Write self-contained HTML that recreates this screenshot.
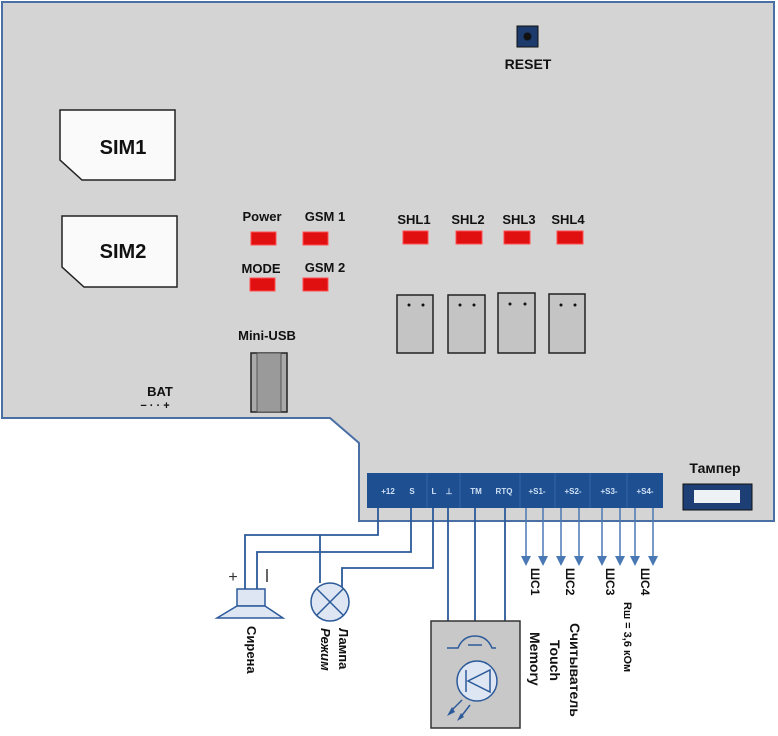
<!DOCTYPE html>
<html><head><meta charset="utf-8"><style>
html,body{margin:0;padding:0;background:#fff;width:778px;height:736px;overflow:hidden}
svg{display:block}
text{font-family:"Liberation Sans",sans-serif;font-weight:bold;fill:#111}
</style></head><body>
<svg width="778" height="736" viewBox="0 0 778 736" xmlns="http://www.w3.org/2000/svg">
<polygon points="2,2 774,2 774,521 359,521 359,443 330,418 2,418" fill="#d4d4d4" stroke="#4a6fa5" stroke-width="2"/>
<!-- reset -->
<rect x="517" y="26" width="21" height="21" fill="#1c3a6b" stroke="#111"/>
<circle cx="527.5" cy="36.5" r="4" fill="#111"/>
<text x="528" y="69" font-size="14" text-anchor="middle">RESET</text>
<!-- SIMs -->
<polygon points="60,110 175,110 175,180 82,180 60,160" fill="#fafafa" stroke="#222" stroke-width="1.5"/>
<text x="123" y="154" font-size="20" text-anchor="middle">SIM1</text>
<polygon points="62,216 177,216 177,287 84,287 62,267" fill="#fafafa" stroke="#222" stroke-width="1.5"/>
<text x="123" y="258" font-size="20" text-anchor="middle">SIM2</text>
<!-- LEDs -->
<g fill="#e01010" stroke="#ff5050" stroke-width="1">
<rect x="251" y="232" width="25" height="13"/><rect x="303" y="232" width="25" height="13"/>
<rect x="250" y="278" width="25" height="13"/><rect x="303" y="278" width="25" height="13"/>
<rect x="403" y="231" width="25" height="13"/><rect x="456" y="231" width="26" height="13"/>
<rect x="504" y="231" width="26" height="13"/><rect x="557" y="231" width="26" height="13"/>
</g>
<g font-size="13">
<text x="262" y="221" text-anchor="middle">Power</text>
<text x="325" y="221" text-anchor="middle">GSM 1</text>
<text x="261" y="273" text-anchor="middle">MODE</text>
<text x="325" y="272" text-anchor="middle">GSM 2</text>
<text x="414" y="224" text-anchor="middle">SHL1</text>
<text x="468" y="224" text-anchor="middle">SHL2</text>
<text x="519" y="224" text-anchor="middle">SHL3</text>
<text x="568" y="224" text-anchor="middle">SHL4</text>
<text x="267" y="340" text-anchor="middle">Mini-USB</text>
<text x="160" y="396" text-anchor="middle">BAT</text>
</g>
<text x="155" y="409" font-size="11" text-anchor="middle">− ·  · +</text>
<!-- relays -->
<g fill="#c4c4c4" stroke="#222" stroke-width="1.5">
<rect x="397" y="295" width="36" height="58"/><rect x="448" y="295" width="37" height="58"/>
<rect x="498" y="293" width="37" height="60"/><rect x="549" y="294" width="36" height="59"/>
</g>
<g fill="#111">
<circle cx="409" cy="305" r="1.5"/><circle cx="423" cy="305" r="1.5"/>
<circle cx="460" cy="305" r="1.5"/><circle cx="474" cy="305" r="1.5"/>
<circle cx="510" cy="304" r="1.5"/><circle cx="525" cy="304" r="1.5"/>
<circle cx="561" cy="305" r="1.5"/><circle cx="575" cy="305" r="1.5"/>
</g>
<!-- mini usb -->
<rect x="251" y="353" width="36" height="59" fill="#aaa" stroke="#222" stroke-width="1.5"/>
<rect x="257" y="353" width="24" height="59" fill="#9a9a9a" stroke="#444" stroke-width="0.8"/>
<!-- terminal block -->
<rect x="367" y="473" width="296" height="35" fill="#1d4f91"/>
<g stroke="#3567a8" stroke-width="1">
<line x1="427" y1="473" x2="427" y2="508"/><line x1="460" y1="473" x2="460" y2="508"/>
<line x1="520" y1="473" x2="520" y2="508"/><line x1="555" y1="473" x2="555" y2="508"/>
<line x1="590" y1="473" x2="590" y2="508"/><line x1="627" y1="473" x2="627" y2="508"/>
</g>
<g font-size="8" fill="#cfe0f5" text-anchor="middle" style="fill:#cfe0f5">
<text x="388" y="494" style="fill:#cfe0f5">+12</text>
<text x="412" y="494" style="fill:#cfe0f5">S</text>
<text x="434" y="494" style="fill:#cfe0f5">L</text>
<text x="449" y="494" style="fill:#cfe0f5">⊥</text>
<text x="476" y="494" style="fill:#cfe0f5">TM</text>
<text x="504" y="494" style="fill:#cfe0f5">RTQ</text>
<text x="537" y="494" style="fill:#cfe0f5">+S1-</text>
<text x="573" y="494" style="fill:#cfe0f5">+S2-</text>
<text x="609" y="494" style="fill:#cfe0f5">+S3-</text>
<text x="645" y="494" style="fill:#cfe0f5">+S4-</text>
</g>
<!-- tamper -->
<text x="715" y="473" font-size="14" text-anchor="middle">Тампер</text>
<rect x="683" y="484" width="69" height="26" fill="#1d3f75" stroke="#111"/>
<rect x="694" y="490" width="46" height="13" fill="#eef2f5"/>
<!-- wires -->
<g fill="none" stroke="#2c5a9a" stroke-width="1.8">
<polyline points="378,508 378,535 245,535 245,590"/>
<polyline points="411,508 411,552 257,552 257,590"/>
<polyline points="433,508 433,568 342,568 342,588"/>
<line x1="320" y1="535" x2="320" y2="583"/>
<line x1="448" y1="508" x2="448" y2="690"/>
<line x1="475" y1="508" x2="475" y2="642"/>
<line x1="505" y1="508" x2="505" y2="690"/>
<line x1="448" y1="690" x2="505" y2="690"/>
</g>
<g stroke="#4a78b5" stroke-width="1.5" fill="#4a78b5">
<line x1="526" y1="508" x2="526" y2="558"/><line x1="543" y1="508" x2="543" y2="558"/>
<line x1="561" y1="508" x2="561" y2="558"/><line x1="579" y1="508" x2="579" y2="558"/>
<line x1="602" y1="508" x2="602" y2="558"/><line x1="620" y1="508" x2="620" y2="558"/>
<line x1="635" y1="508" x2="635" y2="558"/><line x1="653" y1="508" x2="653" y2="558"/>
</g>
<g fill="#4a78b5">
<polygon points="521,556 531,556 526,566"/><polygon points="538,556 548,556 543,566"/>
<polygon points="556,556 566,556 561,566"/><polygon points="574,556 584,556 579,566"/>
<polygon points="597,556 607,556 602,566"/><polygon points="615,556 625,556 620,566"/>
<polygon points="630,556 640,556 635,566"/><polygon points="648,556 658,556 653,566"/>
</g>
<g font-size="12">
<text transform="translate(531,568) rotate(90)">ШС1</text>
<text transform="translate(566,568) rotate(90)">ШС2</text>
<text transform="translate(606,568) rotate(90)">ШС3</text>
<text transform="translate(641,568) rotate(90)">ШС4</text>
<text transform="translate(624,602) rotate(90)" font-size="11">Rш = 3,6 кОм</text>
</g>
<!-- siren -->
<rect x="237" y="589" width="28" height="17" fill="#dde6f2" stroke="#2c5a9a" stroke-width="1.5"/>
<polygon points="237,606 265,606 283,618 217,618" fill="#dde6f2" stroke="#2c5a9a" stroke-width="1.5"/>
<text x="233" y="582" font-size="16" font-weight="normal" text-anchor="middle" style="font-weight:normal;fill:#333">+</text>
<line x1="267" y1="569" x2="267" y2="582" stroke="#333" stroke-width="1.5"/>
<text transform="translate(247,626) rotate(90)" font-size="13">Сирена</text>
<!-- lamp -->
<circle cx="330" cy="602" r="19" fill="#dde6f2" stroke="#2c5a9a" stroke-width="1.5"/>
<line x1="317" y1="589" x2="343" y2="615" stroke="#2c5a9a" stroke-width="1.5"/>
<line x1="343" y1="589" x2="317" y2="615" stroke="#2c5a9a" stroke-width="1.5"/>
<text transform="translate(339,628) rotate(90)" font-size="13">Лампа</text>
<text transform="translate(321,628) rotate(90)" font-size="13" font-style="italic">Режим</text>
<!-- touch reader -->
<rect x="431" y="621" width="89" height="107" fill="#c8c8c8" stroke="#333" stroke-width="1.5"/>
<g fill="none" stroke="#2c5a9a" stroke-width="1.5">
<path d="M447,648 L458,648 Q463,636 475,636 Q487,636 492,648 L496,648"/>
<line x1="468" y1="645" x2="482" y2="645"/>
<circle cx="477" cy="681" r="20" fill="#dde6f2"/>
<polygon points="490,670 490,692 468,681"/>
<line x1="466" y1="670" x2="466" y2="692"/>
<line x1="462" y1="700" x2="450" y2="712"/><line x1="470" y1="705" x2="460" y2="718"/>
</g>
<g fill="#2c5a9a"><polygon points="447,716 452,707 455,712"/><polygon points="457,721 461,713 464,717"/></g>
<g font-size="14">
<text transform="translate(570,623) rotate(90)">Считыватель</text>
<text transform="translate(550,640) rotate(90)">Touch</text>
<text transform="translate(530,632) rotate(90)">Memory</text>
</g>
</svg>
</body></html>
